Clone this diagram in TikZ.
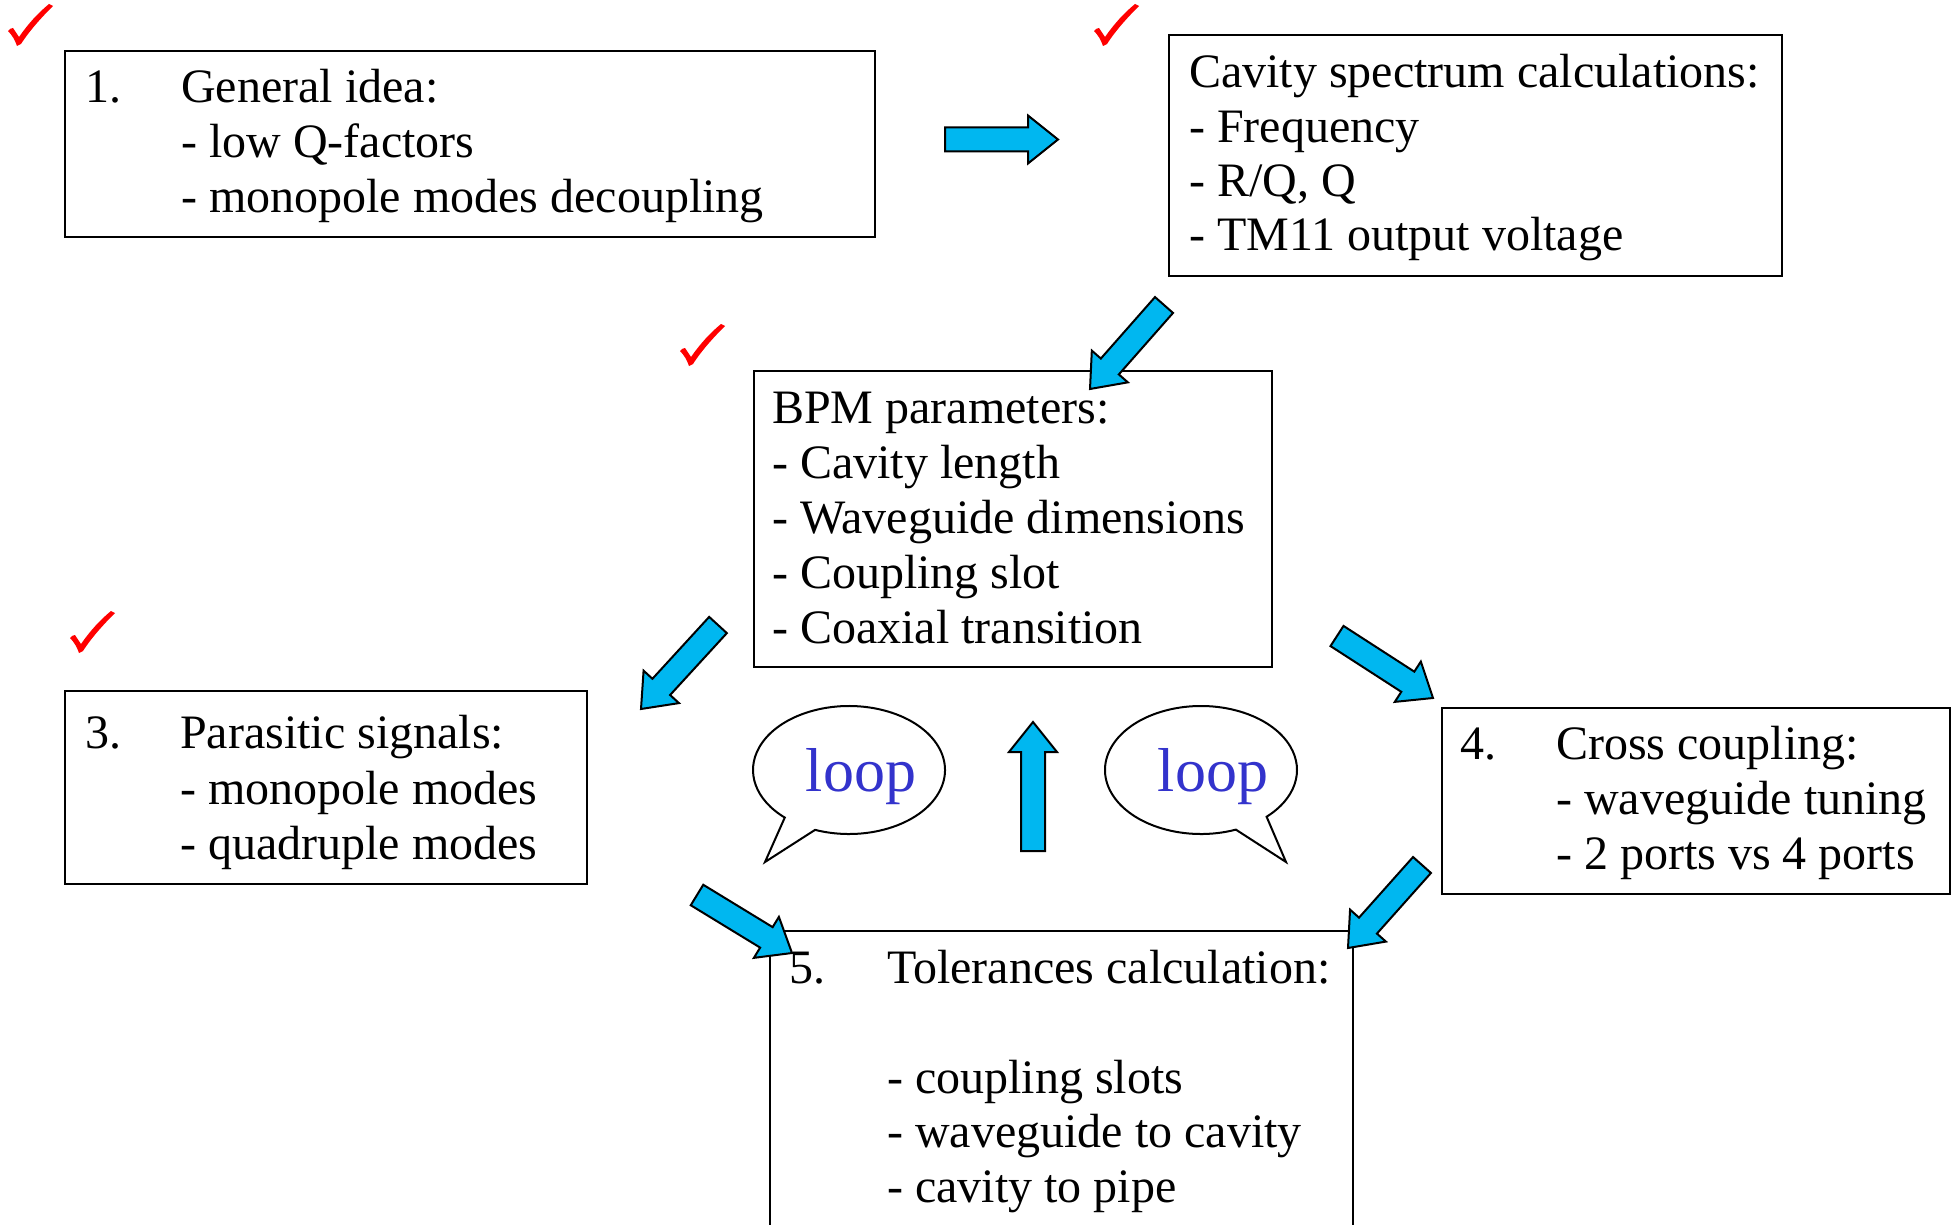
\documentclass[tikz,border=0pt]{standalone}
\usepackage{fontspec}
\setmainfont{Liberation Serif}
\usetikzlibrary{calc}
\definecolor{arrowblue}{RGB}{0,183,240}
\definecolor{loopblue}{RGB}{51,51,204}
\tikzset{
  box/.style={draw, line width=2.5pt, anchor=north west, inner sep=0pt, outer sep=0pt},
  txt/.style={anchor=base west, inner sep=0pt, font=\fontsize{48}{55}\selectfont},
  barrowstyle/.style={draw, fill=arrowblue, line width=2pt, line join=miter},
  bubble/.style={draw, fill=white, line width=2pt, line join=miter},
  looptxt/.style={anchor=base, inner sep=0pt, text=loopblue, font=\fontsize{62}{70}\selectfont},
  tick/.style={fill=red},
}
\newcommand\blockarrow[2]{%
  \coordinate (ab) at ($(#2)!30pt!(#1)$);
  \draw[barrowstyle] ($(#1)!12pt!90:(#2)$) -- ($(ab)!12pt!90:(#2)$) -- ($(ab)!24pt!90:(#2)$) -- (#2)
    -- ($(ab)!24pt!-90:(#2)$) -- ($(ab)!12pt!-90:(#2)$) -- ($(#1)!12pt!-90:(#2)$) -- cycle;}
\newcommand\tickmark[1]{%
  \fill[tick, shift={(#1)}] (8,31) .. controls (10,29) and (11,28) .. (13,28)
    -- (19,37) .. controls (28,24) and (38,13) .. (49,4) -- (53,6)
    .. controls (42,17) and (30,30) .. (21,44) -- (17,46)
    .. controls (15,40) and (12,35) .. cycle;}
\begin{document}
\begin{tikzpicture}[x=1pt,y=-1pt]
\clip (0,0) rectangle (1954,1225);
\fill[white] (0,0) rectangle (1954,1225);

% boxes
\node[box, minimum width=810pt, minimum height=186pt] (b1) at (65,51) {};
\node[box, minimum width=613pt, minimum height=241pt] (b2) at (1169,35) {};
\node[box, minimum width=518pt, minimum height=296pt] (bpm) at (754,371) {};
\node[box, minimum width=522pt, minimum height=193pt] (b3) at (65,691) {};
\node[box, minimum width=508pt, minimum height=186pt] (b4) at (1442,708) {};
\node[box, minimum width=583pt, minimum height=330pt] (b5) at (770,931) {};

% texts box 1
\node[txt] (t1n) at (85,103) {1.};
\node[txt] (t1a) at (181,103) {General idea:};
\node[txt] (t1b) at (181,158) {- low Q-factors};
\node[txt] (t1c) at (181,213) {- monopole modes decoupling};
% box 2
\node[txt] (t2a) at (1189,88) {Cavity spectrum calculations:};
\node[txt] (t2b) at (1189,143) {- Frequency};
\node[txt] (t2c) at (1189,197) {- R/Q, Q};
\node[txt] (t2d) at (1189,251) {- TM11 output voltage};
% BPM
\node[txt] (tpa) at (772,423) {BPM parameters:};
\node[txt] (tpb) at (772,478) {- Cavity length};
\node[txt] (tpc) at (772,533) {- Waveguide dimensions};
\node[txt] (tpd) at (772,588) {- Coupling slot};
\node[txt] (tpe) at (772,643) {- Coaxial transition};
% box 3
\node[txt] (t3n) at (85,748) {3.};
\node[txt] (t3a) at (180,748) {Parasitic signals:};
\node[txt] (t3b) at (180,804) {- monopole modes};
\node[txt] (t3c) at (180,859) {- quadruple modes};
% box 4
\node[txt] (t4n) at (1460,759) {4.};
\node[txt] (t4a) at (1556,759) {Cross coupling:};
\node[txt] (t4b) at (1556,814) {- waveguide tuning};
\node[txt] (t4c) at (1556,869) {- 2 ports vs 4 ports};
% box 5
\node[txt] (t5n) at (789,983) {5.};
\node[txt] (t5a) at (887,983) {Tolerances calculation:};
\node[txt] (t5b) at (887,1093) {- coupling slots};
\node[txt] (t5c) at (887,1147) {- waveguide to cavity};
\node[txt] (t5d) at (887,1202) {- cavity to pipe};

% check marks
\tickmark{0,0}
\tickmark{1086,0}
\tickmark{672,320}
\tickmark{62,607}

% loop bubbles
\coordinate (l1c) at (849,770);
\coordinate (l1tip) at (765,862);
\draw[bubble] (l1tip) -- ($(l1c)+(110.7:96 and 64)$) arc[start angle=110.7, end angle=-228, x radius=96, y radius=64] -- cycle;
\node[looptxt] (l1) at (861,791) {loop};
\coordinate (l2c) at (1201,770);
\coordinate (l2tip) at (1286,862);
\draw[bubble] (l2tip) -- ($(l2c)+(68.7:96 and 64)$) arc[start angle=68.7, end angle=406.9, x radius=96, y radius=64] -- cycle;
\node[looptxt] (l2) at (1213,791) {loop};

% block arrows
\coordinate (a1s) at (945,139.5); \coordinate (a1e) at (1058,139.5);
\coordinate (a2s) at (1164,305);  \coordinate (a2e) at (1090,389);
\coordinate (a3s) at (718,625);   \coordinate (a3e) at (641,709);
\coordinate (a4s) at (1337,636);  \coordinate (a4e) at (1433,698);
\coordinate (a5s) at (697,895);   \coordinate (a5e) at (792,953);
\coordinate (a6s) at (1422,865);  \coordinate (a6e) at (1348,948);
\coordinate (a7s) at (1033,851);  \coordinate (a7e) at (1033,722);
\blockarrow{a1s}{a1e}
\blockarrow{a2s}{a2e}
\blockarrow{a3s}{a3e}
\blockarrow{a4s}{a4e}
\blockarrow{a5s}{a5e}
\blockarrow{a6s}{a6e}
\blockarrow{a7s}{a7e}
\end{tikzpicture}
\end{document}
